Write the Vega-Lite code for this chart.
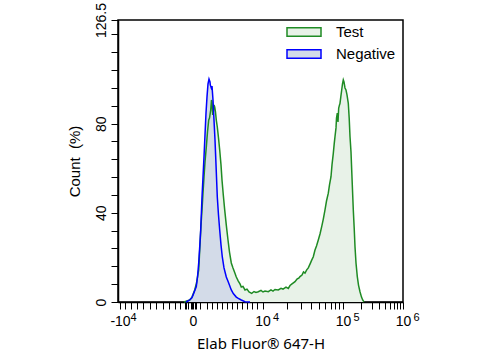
{
  "$schema": "https://vega.github.io/schema/vega-lite/v6.json",
  "width": 285,
  "height": 282,
  "autosize": {"type": "none"},
  "padding": {"left": 118, "top": 20, "right": 77, "bottom": 57},
  "background": "white",
  "config": {
    "font": "Liberation Sans",
    "view": {"stroke": "#000000", "strokeWidth": 1.5},
    "axis": {"domainColor": "#000000", "domainWidth": 1.5, "tickColor": "#000000", "tickWidth": 1, "labelColor": "#000000", "titleColor": "#000000", "grid": false, "labelFont": "Liberation Sans", "titleFont": "Liberation Sans", "titleFontWeight": "normal"}
  },
  "datasets": {
    "hist": [
      {"sample": "Test", "channel": 64, "count": 0},
      {"sample": "Test", "channel": 69.7, "count": 0.9},
      {"sample": "Test", "channel": 72, "count": 2.2},
      {"sample": "Test", "channel": 74.7, "count": 5.4},
      {"sample": "Test", "channel": 76.5, "count": 8.5},
      {"sample": "Test", "channel": 78.7, "count": 14.4},
      {"sample": "Test", "channel": 80, "count": 25.6},
      {"sample": "Test", "channel": 81, "count": 34.5},
      {"sample": "Test", "channel": 82, "count": 41.3},
      {"sample": "Test", "channel": 83, "count": 48.9},
      {"sample": "Test", "channel": 84, "count": 56.1},
      {"sample": "Test", "channel": 85, "count": 62.8},
      {"sample": "Test", "channel": 86.3, "count": 69.5},
      {"sample": "Test", "channel": 87.5, "count": 76.3},
      {"sample": "Test", "channel": 88.7, "count": 81.6},
      {"sample": "Test", "channel": 89.5, "count": 82.5},
      {"sample": "Test", "channel": 90.7, "count": 86.1},
      {"sample": "Test", "channel": 91.5, "count": 90.6},
      {"sample": "Test", "channel": 92, "count": 89.7},
      {"sample": "Test", "channel": 92.7, "count": 83.9},
      {"sample": "Test", "channel": 93.3, "count": 85.2},
      {"sample": "Test", "channel": 94, "count": 88.4},
      {"sample": "Test", "channel": 94.7, "count": 87.5},
      {"sample": "Test", "channel": 95.5, "count": 85.2},
      {"sample": "Test", "channel": 96.3, "count": 81.6},
      {"sample": "Test", "channel": 97.3, "count": 78.5},
      {"sample": "Test", "channel": 98.5, "count": 73.6},
      {"sample": "Test", "channel": 99.7, "count": 68.2},
      {"sample": "Test", "channel": 101, "count": 61.5},
      {"sample": "Test", "channel": 102, "count": 54.7},
      {"sample": "Test", "channel": 103.3, "count": 48.0},
      {"sample": "Test", "channel": 104.7, "count": 41.3},
      {"sample": "Test", "channel": 106.3, "count": 34.5},
      {"sample": "Test", "channel": 108, "count": 27.8},
      {"sample": "Test", "channel": 109.5, "count": 22.4},
      {"sample": "Test", "channel": 111.3, "count": 17.5},
      {"sample": "Test", "channel": 113, "count": 15.3},
      {"sample": "Test", "channel": 114.5, "count": 13.5},
      {"sample": "Test", "channel": 116.3, "count": 11.2},
      {"sample": "Test", "channel": 118.3, "count": 9.4},
      {"sample": "Test", "channel": 120, "count": 8.1},
      {"sample": "Test", "channel": 121.3, "count": 6.7},
      {"sample": "Test", "channel": 123, "count": 7.0},
      {"sample": "Test", "channel": 125, "count": 5.4},
      {"sample": "Test", "channel": 127, "count": 5.8},
      {"sample": "Test", "channel": 129, "count": 4.5},
      {"sample": "Test", "channel": 131.7, "count": 3.9},
      {"sample": "Test", "channel": 134, "count": 4.7},
      {"sample": "Test", "channel": 136, "count": 4.3},
      {"sample": "Test", "channel": 138.3, "count": 4.6},
      {"sample": "Test", "channel": 141, "count": 5.2},
      {"sample": "Test", "channel": 143, "count": 4.5},
      {"sample": "Test", "channel": 145, "count": 4.9},
      {"sample": "Test", "channel": 148.3, "count": 4.6},
      {"sample": "Test", "channel": 151, "count": 5.4},
      {"sample": "Test", "channel": 153, "count": 4.9},
      {"sample": "Test", "channel": 155, "count": 5.6},
      {"sample": "Test", "channel": 158.3, "count": 5.4},
      {"sample": "Test", "channel": 161, "count": 6.1},
      {"sample": "Test", "channel": 163, "count": 5.8},
      {"sample": "Test", "channel": 166, "count": 6.7},
      {"sample": "Test", "channel": 168.3, "count": 6.1},
      {"sample": "Test", "channel": 170, "count": 7.4},
      {"sample": "Test", "channel": 172, "count": 8.1},
      {"sample": "Test", "channel": 175, "count": 9.1},
      {"sample": "Test", "channel": 177, "count": 10.3},
      {"sample": "Test", "channel": 179, "count": 10.8},
      {"sample": "Test", "channel": 180, "count": 11.4},
      {"sample": "Test", "channel": 182, "count": 12.1},
      {"sample": "Test", "channel": 183.5, "count": 13.5},
      {"sample": "Test", "channel": 185, "count": 13.0},
      {"sample": "Test", "channel": 186.7, "count": 14.4},
      {"sample": "Test", "channel": 188.3, "count": 15.3},
      {"sample": "Test", "channel": 190, "count": 17.0},
      {"sample": "Test", "channel": 191.7, "count": 18.8},
      {"sample": "Test", "channel": 193.3, "count": 20.3},
      {"sample": "Test", "channel": 195, "count": 23.3},
      {"sample": "Test", "channel": 196.5, "count": 25.1},
      {"sample": "Test", "channel": 198.3, "count": 27.8},
      {"sample": "Test", "channel": 200, "count": 30.5},
      {"sample": "Test", "channel": 201.7, "count": 33.8},
      {"sample": "Test", "channel": 203.3, "count": 37.2},
      {"sample": "Test", "channel": 205, "count": 41.3},
      {"sample": "Test", "channel": 206.5, "count": 45.3},
      {"sample": "Test", "channel": 208.3, "count": 48.8},
      {"sample": "Test", "channel": 209.5, "count": 52.5},
      {"sample": "Test", "channel": 211, "count": 56.2},
      {"sample": "Test", "channel": 212, "count": 61.5},
      {"sample": "Test", "channel": 213.3, "count": 66.7},
      {"sample": "Test", "channel": 214.2, "count": 70.9},
      {"sample": "Test", "channel": 215, "count": 74.2},
      {"sample": "Test", "channel": 216, "count": 78.1},
      {"sample": "Test", "channel": 216.5, "count": 82.5},
      {"sample": "Test", "channel": 217.3, "count": 84.7},
      {"sample": "Test", "channel": 218, "count": 80.8},
      {"sample": "Test", "channel": 218.7, "count": 87.0},
      {"sample": "Test", "channel": 219.5, "count": 88.4},
      {"sample": "Test", "channel": 220, "count": 89.1},
      {"sample": "Test", "channel": 220.8, "count": 92.0},
      {"sample": "Test", "channel": 221.7, "count": 95.1},
      {"sample": "Test", "channel": 222.5, "count": 97.8},
      {"sample": "Test", "channel": 223.3, "count": 99.6},
      {"sample": "Test", "channel": 224, "count": 98.7},
      {"sample": "Test", "channel": 225, "count": 96.0},
      {"sample": "Test", "channel": 226, "count": 95.1},
      {"sample": "Test", "channel": 227, "count": 92.9},
      {"sample": "Test", "channel": 228.3, "count": 89.1},
      {"sample": "Test", "channel": 229.2, "count": 82.5},
      {"sample": "Test", "channel": 230, "count": 74.2},
      {"sample": "Test", "channel": 231, "count": 67.3},
      {"sample": "Test", "channel": 231.7, "count": 59.2},
      {"sample": "Test", "channel": 232.5, "count": 50.2},
      {"sample": "Test", "channel": 233.3, "count": 41.3},
      {"sample": "Test", "channel": 234.2, "count": 33.2},
      {"sample": "Test", "channel": 235, "count": 24.8},
      {"sample": "Test", "channel": 236, "count": 17.5},
      {"sample": "Test", "channel": 237.3, "count": 11.4},
      {"sample": "Test", "channel": 238.5, "count": 7.6},
      {"sample": "Test", "channel": 240, "count": 4.6},
      {"sample": "Test", "channel": 241.5, "count": 2.2},
      {"sample": "Test", "channel": 242.7, "count": 0.9},
      {"sample": "Test", "channel": 244, "count": 0},
      {"sample": "Negative", "channel": 66, "count": 0},
      {"sample": "Negative", "channel": 69, "count": 0.7},
      {"sample": "Negative", "channel": 71.7, "count": 1.8},
      {"sample": "Negative", "channel": 73, "count": 3.1},
      {"sample": "Negative", "channel": 75, "count": 5.4},
      {"sample": "Negative", "channel": 76.3, "count": 6.9},
      {"sample": "Negative", "channel": 77.5, "count": 11.2},
      {"sample": "Negative", "channel": 78.7, "count": 17.5},
      {"sample": "Negative", "channel": 79.7, "count": 24.7},
      {"sample": "Negative", "channel": 80.7, "count": 32.3},
      {"sample": "Negative", "channel": 82, "count": 47.1},
      {"sample": "Negative", "channel": 83, "count": 56.1},
      {"sample": "Negative", "channel": 84, "count": 65.1},
      {"sample": "Negative", "channel": 85, "count": 75.0},
      {"sample": "Negative", "channel": 86, "count": 84.8},
      {"sample": "Negative", "channel": 87, "count": 92.0},
      {"sample": "Negative", "channel": 88, "count": 97.8},
      {"sample": "Negative", "channel": 89, "count": 100.0},
      {"sample": "Negative", "channel": 90, "count": 98.7},
      {"sample": "Negative", "channel": 90.3, "count": 97.4},
      {"sample": "Negative", "channel": 91.3, "count": 96.0},
      {"sample": "Negative", "channel": 92, "count": 96.9},
      {"sample": "Negative", "channel": 93, "count": 90.6},
      {"sample": "Negative", "channel": 94, "count": 81.6},
      {"sample": "Negative", "channel": 95, "count": 72.7},
      {"sample": "Negative", "channel": 95.7, "count": 65.1},
      {"sample": "Negative", "channel": 96.5, "count": 56.1},
      {"sample": "Negative", "channel": 97.3, "count": 47.1},
      {"sample": "Negative", "channel": 98.5, "count": 39.0},
      {"sample": "Negative", "channel": 99.7, "count": 32.3},
      {"sample": "Negative", "channel": 101, "count": 25.6},
      {"sample": "Negative", "channel": 102.3, "count": 20.2},
      {"sample": "Negative", "channel": 104, "count": 15.3},
      {"sample": "Negative", "channel": 106.3, "count": 11.2},
      {"sample": "Negative", "channel": 108.3, "count": 9.0},
      {"sample": "Negative", "channel": 111.3, "count": 5.4},
      {"sample": "Negative", "channel": 113.3, "count": 3.8},
      {"sample": "Negative", "channel": 116.3, "count": 2.2},
      {"sample": "Negative", "channel": 118.3, "count": 1.6},
      {"sample": "Negative", "channel": 121.3, "count": 0.9},
      {"sample": "Negative", "channel": 125, "count": 0.1},
      {"sample": "Negative", "channel": 130, "count": 0}
    ]
  },
  "data": {"name": "hist"},
  "resolve": {"axis": {"x": "independent"}},
  "encoding": {
    "y": {
      "field": "count",
      "type": "quantitative",
      "scale": {"domain": [0, 126.5], "nice": false},
      "axis": {
        "title": "Count \u00a0(%)",
        "titleFontSize": 15,
        "titlePadding": 12,
        "values": [0, 8, 16, 24, 32, 40, 48, 56, 64, 72, 80, 88, 96, 104, 112, 120, 126.5],
        "labelExpr": "datum.value === 126.5 ? '126.5' : (datum.value === 0 || datum.value === 40 || datum.value === 80) ? '' + datum.value : ''",
        "labelAngle": 270,
        "labelAlign": "center",
        "labelBaseline": "bottom",
        "labelFontSize": 14,
        "labelFlush": false,
        "labelOverlap": false,
        "labelBound": false,
        "labelPadding": 3,
        "tickSize": 7,
        "encode": {
          "ticks": {"update": {"x2": {"signal": "(datum.value % 40 === 0) ? -7 : -4"}}}
        }
      }
    }
  },
  "layer": [
    {
      "transform": [{"filter": "datum.sample === 'Test'"}],
      "mark": {"type": "area", "opacity": 1},
      "encoding": {
        "x": {
          "field": "channel",
          "type": "quantitative",
          "scale": {"domain": [-2, 283], "nice": false, "zero": false},
          "axis": {
            "orient": "bottom",
            "title": "Elab Fluor® 647-H",
            "titleFont": "Noto Sans",
            "titleFontSize": 15,
            "titlePadding": 8,
            "values": [0, 5, 11, 17, 23, 29.5, 36, 42.5, 49, 55, 59.5, 64.5, 66, 68, 70.5, 71.5, 73, 74.5, 76, 80, 87, 92, 97, 102, 107, 112, 117, 122, 127, 132, 137, 142.5, 166.7, 180.9, 191, 198.8, 205.1, 210.5, 215.2, 219.3, 223, 241.1, 251.6, 259.1, 264.9, 269.7, 273.7, 277.2, 280.2, 283],
            "labelExpr": "datum.value === 0 ? '-10' : datum.value === 73 ? '0' : (datum.value === 142.5 || datum.value === 223 || datum.value === 283) ? '10' : ''",
            "labelFontSize": 14,
            "labelFlush": false,
            "labelOverlap": false,
            "labelBound": false,
            "labelPadding": 5,
            "tickSize": 7,
            "encode": {"ticks": {"update": {"y2": {"signal": "indexof([0, 73, 142.5, 223, 283], datum.value) >= 0 ? 7 : 4"}}}}
          }
        },
        "fill": {
          "field": "sample",
          "type": "nominal",
          "scale": {"domain": ["Test", "Negative"], "range": ["#e8f2e8", "#d3dbe8"]},
          "legend": {
            "title": null,
            "orient": "none",
            "legendX": 176.5,
            "legendY": 2.5,
            "padding": 0,
            "symbolType": "M-2,-0.5H2V0.5H-2Z",
            "symbolSize": 289,
            "symbolStrokeWidth": 1.5,
            "symbolOpacity": 1,
            "labelFontSize": 15,
            "labelFont": "Liberation Sans",
            "labelColor": "#000000",
            "labelOffset": 22.5,
            "rowPadding": 4,
            "encode": {"symbols": {"update": {
              "fill": {"signal": "datum.value === 'Test' ? '#e6efe6' : '#e4e4fb'"},
              "stroke": {"signal": "datum.value === 'Test' ? '#1f8b24' : '#0000ff'"},
              "strokeWidth": {"value": 1.5},
              "opacity": {"value": 1},
              "fillOpacity": {"value": 1}
            }}}
          }
        }
      }
    },
    {
      "transform": [{"filter": "datum.sample === 'Negative'"}],
      "mark": {"type": "area", "opacity": 1},
      "encoding": {
        "x": {
          "field": "channel",
          "type": "quantitative",
          "axis": {
            "orient": "bottom",
            "title": null,
            "domain": false,
            "ticks": false,
            "tickSize": 0,
            "values": [0, 142.5, 223, 283],
            "labelExpr": "datum.value === 0 ? '4' : datum.value === 142.5 ? '4' : datum.value === 223 ? '5' : '6'",
            "labelFontSize": 11,
            "labelFlush": false,
            "labelOverlap": false,
            "labelBound": false,
            "labelPadding": 9,
            "labelAlign": "left",
            "labelOffset": 10
          }
        },
        "fill": {"field": "sample", "type": "nominal"}
      }
    },
    {
      "transform": [{"filter": "datum.sample === 'Test'"}],
      "mark": {"type": "line", "strokeWidth": 1.5},
      "encoding": {
        "x": {"field": "channel", "type": "quantitative", "axis": null},
        "stroke": {"field": "sample", "type": "nominal", "scale": {"domain": ["Test", "Negative"], "range": ["#1f8b24", "#0000ff"]}, "legend": null}
      }
    },
    {
      "transform": [{"filter": "datum.sample === 'Negative'"}],
      "mark": {"type": "line", "strokeWidth": 1.5},
      "encoding": {
        "x": {"field": "channel", "type": "quantitative", "axis": null},
        "stroke": {"field": "sample", "type": "nominal", "legend": null}
      }
    }
  ]
}
